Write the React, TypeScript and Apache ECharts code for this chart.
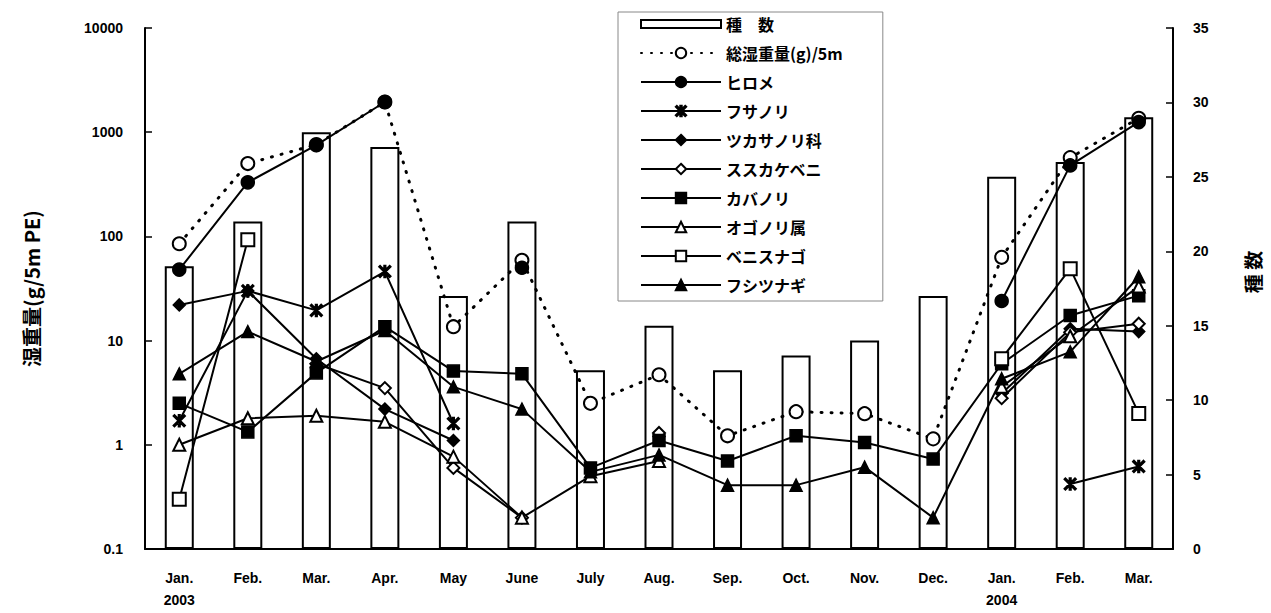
import React, { useEffect, useRef } from "react";
import * as echarts from "echarts";

const months = ["Jan.\n2003", "Feb.", "Mar.", "Apr.", "May", "June", "July", "Aug.", "Sep.", "Oct.", "Nov.", "Dec.", "Jan.\n2004", "Feb.", "Mar."];

const speciesCount = [19, 22, 28, 27, 17, 22, 12, 15, 12, 13, 14, 17, 25, 26, 29];
const totalWet = [85, 500, 760, 1950, 13.6, 59, 2.5, 4.7, 1.22, 2.08, 1.99, 1.14, 63, 570, 1360];
const hirome = [48, 330, 750, 1950, null, 50, null, null, null, null, null, null, 24, 480, 1250];
const fusanori = [1.7, 30, 19.5, 46, 1.6, null, null, null, null, null, null, null, null, 0.42, 0.62];
const tsukasanori = [22, 30, 6.7, 2.2, 1.1, null, null, 1.2, null, null, null, null, 3.1, 13, 12.2];
const susukakebeni = [null, null, 6, 3.5, 0.6, 0.2, null, 1.3, null, null, null, null, 2.8, 12, 14.5];
const kabanori = [2.5, 1.33, 4.9, 13.6, 5.1, 4.8, 0.6, 1.1, 0.7, 1.22, 1.05, 0.73, 6, 17.4, 27];
const ogonori = [1.0, 1.8, 1.9, 1.66, 0.77, 0.2, 0.5, 0.7, null, null, null, null, 3.6, 11, 33];
const benisunago = [0.3, 93, null, null, null, null, null, null, null, null, null, null, 6.7, 49, 2.0];
const futsunagi = [4.8, 12.2, 6.3, 12.5, 3.6, 2.2, 0.55, 0.8, 0.41, 0.41, 0.61, 0.2, 4.3, 7.8, 41];

const leftTicks = [0.1, 1, 10, 100, 1000, 10000];

const ASTERISK =
  "path://M4.3 0 H5.7 V10 H4.3 Z M0 1 L1 0 L10 9 L9 10 Z M9 0 L10 1 L1 10 L0 9 Z";
const BAR_ICON = "path://M0 0 H80 V8 H0 Z";

const numFont = "'Liberation Sans', Arial, sans-serif";
const jpFont = "'Noto Sans CJK JP', sans-serif";

function lineSeries(name: string, data: (number | null)[], symbol: string, size = 11) {
  return {
    name,
    type: "line",
    data,
    yAxisIndex: 0,
    symbol,
    symbolSize: size,
    connectNulls: false,
    showAllSymbol: true,
    lineStyle: { color: "#000", width: 2 },
    itemStyle: { color: "#000", borderColor: "#000", borderWidth: 1.5 },
    z: 3,
  };
}

export default function App() {
  const ref = useRef<HTMLDivElement>(null);
  useEffect(() => {
    if (!ref.current) return;
    const chart = echarts.init(ref.current, null, { renderer: "svg" });
    const option: any = {
      animation: false,
      backgroundColor: "#fff",
      grid: { left: 145, right: 98, top: 28, bottom: 64 },
      legend: {
        orient: "vertical",
        left: 618,
        top: 12,
        padding: [4, 40, 8, 22],
        itemWidth: 80,
        itemHeight: 13,
        itemGap: 13,
        borderColor: "#888",
        borderWidth: 1,
        backgroundColor: "#fff",
        textStyle: { fontFamily: jpFont, fontWeight: "bold", fontSize: 16, color: "#000" },
        data: [
          { name: "種　数", icon: BAR_ICON },
          "総湿重量(g)/5m",
          "ヒロメ",
          "フサノリ",
          "ツカサノリ科",
          "ススカケベニ",
          "カバノリ",
          "オゴノリ属",
          "ベニスナゴ",
          "フシツナギ",
        ],
      },
      xAxis: {
        type: "category",
        data: months,
        boundaryGap: true,
        axisLine: { lineStyle: { color: "#000", width: 2 } },
        axisTick: { inside: true, length: 5, lineStyle: { color: "#000", width: 1.5 } },
        axisLabel: {
          color: "#000",
          fontFamily: numFont,
          fontWeight: "bold",
          fontSize: 14,
          lineHeight: 22,
          margin: 18,
          interval: 0,
        },
      },
      yAxis: [
        {
          type: "log",
          logBase: 10,
          min: 0.1,
          max: 10000,
          name: "湿重量(g/5m PE)",
          nameLocation: "middle",
          nameRotate: 90,
          nameGap: 104,
          nameTextStyle: { fontFamily: jpFont, fontWeight: "bold", fontSize: 20, color: "#000" },
          axisLine: { show: true, lineStyle: { color: "#000", width: 2 } },
          axisTick: { show: true, inside: true, length: 7, lineStyle: { color: "#000", width: 1.5 } },
          splitLine: { show: false },
          axisLabel: {
            color: "#000",
            fontFamily: numFont,
            fontWeight: "bold",
            fontSize: 14,
            margin: 22,
            formatter: (v: number) => {
              const hit = leftTicks.find((t) => Math.abs(t - v) / t < 1e-6);
              return hit !== undefined ? String(hit) : "";
            },
          },
        },
        {
          type: "value",
          min: 0,
          max: 35,
          interval: 5,
          position: "right",
          axisLine: { show: true, lineStyle: { color: "#000", width: 2 } },
          axisTick: { show: true, inside: true, length: 7, lineStyle: { color: "#000", width: 1.5 } },
          splitLine: { show: false },
          axisLabel: {
            color: "#000",
            fontFamily: numFont,
            fontWeight: "bold",
            fontSize: 14,
            margin: 20,
          },
        },
      ],
      graphic: [
        {
          type: "text",
          x: 1252,
          y: 272,
          rotation: Math.PI / 2,
          style: {
            text: "種 数",
            fontFamily: jpFont,
            fontWeight: "bold",
            fontSize: 19,
            fill: "#000",
            align: "center",
            verticalAlign: "middle",
          },
        },
      ],
      series: [
        {
          name: "種　数",
          type: "bar",
          yAxisIndex: 1,
          data: speciesCount,
          barWidth: 29,
          itemStyle: { color: "#fff", borderColor: "#000", borderWidth: 2 },
          z: 1,
        },
        {
          name: "総湿重量(g)/5m",
          type: "line",
          yAxisIndex: 0,
          data: totalWet,
          symbol: "emptyCircle",
          symbolSize: 13,
          showAllSymbol: true,
          lineStyle: { color: "#000", width: 3, type: [1, 9], cap: "round" },
          itemStyle: { color: "#000", borderColor: "#000", borderWidth: 1.5 },
          z: 3,
        },
        lineSeries("ヒロメ", hirome, "circle", 13),
        lineSeries("フサノリ", fusanori, ASTERISK, 12),
        lineSeries("ツカサノリ科", tsukasanori, "diamond", 12),
        lineSeries("ススカケベニ", susukakebeni, "emptyDiamond", 12),
        lineSeries("カバノリ", kabanori, "rect", 12),
        lineSeries("オゴノリ属", ogonori, "emptyTriangle", 12),
        lineSeries("ベニスナゴ", benisunago, "emptyRect", 13),
        lineSeries("フシツナギ", futsunagi, "triangle", 12),
      ],
    };
    chart.setOption(option);
    return () => chart.dispose();
  }, []);
  return (
    <div
      ref={ref}
      style={{ position: "fixed", left: 0, top: 0, width: 1271, height: 613, background: "#fff" }}
    />
  );
}
